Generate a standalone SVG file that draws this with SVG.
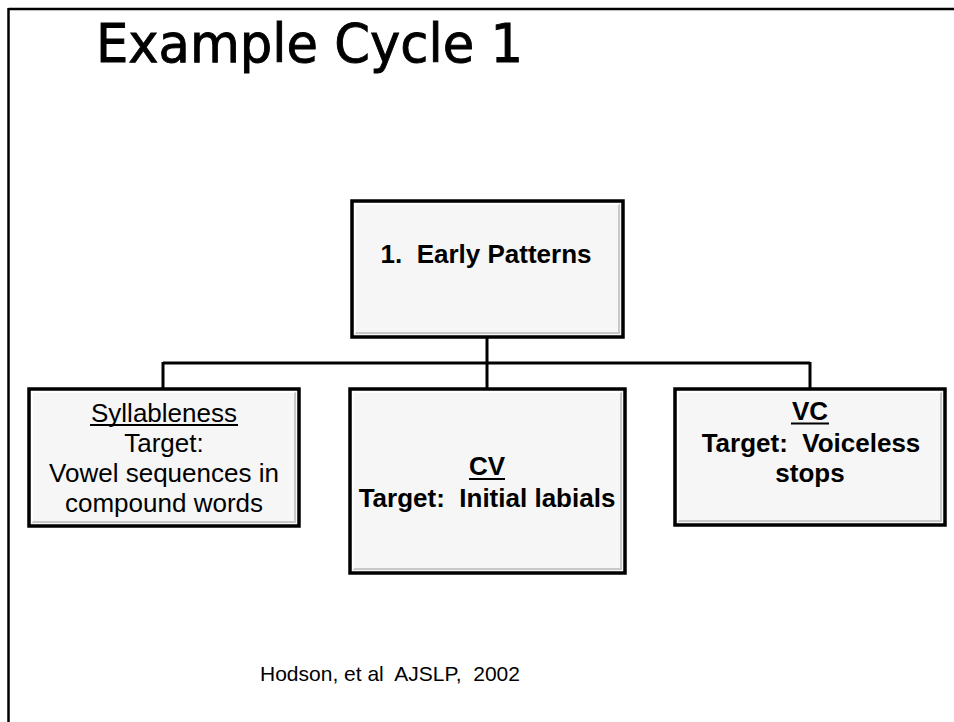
<svg xmlns="http://www.w3.org/2000/svg" width="954" height="722" viewBox="0 0 954 722">
<style>
.box{fill:#f6f6f6;stroke:#000;stroke-width:3.5}
.bev{fill:none;stroke:#c8c8c8;stroke-width:2}
.hl{fill:none;stroke:#ffffff;stroke-width:2}
.t{font-family:"Liberation Sans",Arial,sans-serif;font-size:26px;fill:#000;text-anchor:middle}
.b{font-weight:bold}
.conn{stroke:#000;stroke-width:3;fill:none}
</style>
<rect width="954" height="722" fill="#fff"/>
<g id="frame">
<line x1="8.5" y1="9" x2="954" y2="9" stroke="#000" stroke-width="2.5"/>
<line x1="8.5" y1="8" x2="8.5" y2="722" stroke="#000" stroke-width="2.5"/>
</g>
<text id="title" x="96" y="62" font-family="DejaVu Sans, sans-serif" font-size="53" textLength="427" lengthAdjust="spacingAndGlyphs" fill="#000" stroke="#000" stroke-width="0.9">Example Cycle 1</text>
<g id="connectors">
<line class="conn" x1="487" y1="338" x2="487" y2="390"/>
<line class="conn" x1="163" y1="363" x2="810" y2="363"/>
<line class="conn" x1="163" y1="362" x2="163" y2="390"/>
<line class="conn" x1="810" y1="362" x2="810" y2="390"/>
</g>
<g id="node-top">
<rect class="box" x="352" y="201" width="271" height="136"/>
<polyline class="bev" points="355,333 619,333 619,204"/>
<polyline class="hl" points="355,333 355,204 619,204"/>
<text class="t b" x="486" y="263" xml:space="preserve">1.  Early Patterns</text>
</g>
<g id="node-syllableness">
<rect class="box" x="29" y="389" width="270" height="137"/>
<polyline class="bev" points="32,522 295,522 295,392"/>
<polyline class="hl" points="32,522 32,392 295,392"/>
<text class="t" x="164" y="422">Syllableness</text>
<line x1="90" y1="425" x2="238" y2="425" stroke="#000" stroke-width="1.8"/>
<text class="t" x="164" y="452">Target:</text>
<text class="t" x="164" y="482">Vowel sequences in</text>
<text class="t" x="164" y="512">compound words</text>
</g>
<g id="node-cv">
<rect class="box" x="350" y="389" width="275" height="184"/>
<polyline class="bev" points="353,569 621,569 621,392"/>
<polyline class="hl" points="353,569 353,392 621,392"/>
<text class="t b" x="487" y="475">CV</text>
<line x1="469" y1="479" x2="505" y2="479" stroke="#000" stroke-width="2.2"/>
<text class="t b" x="487" y="507" xml:space="preserve">Target:  Initial labials</text>
</g>
<g id="node-vc">
<rect class="box" x="675" y="389" width="270" height="136"/>
<polyline class="bev" points="678,521 941,521 941,392"/>
<polyline class="hl" points="678,521 678,392 941,392"/>
<text class="t b" x="810" y="420">VC</text>
<line x1="791" y1="423.5" x2="829" y2="423.5" stroke="#000" stroke-width="2.2"/>
<text class="t b" x="811" y="452" xml:space="preserve">Target:  Voiceless</text>
<text class="t b" x="810" y="482">stops</text>
</g>
<text id="citation" x="260" y="681" font-family="Liberation Sans, Arial, sans-serif" font-size="21" fill="#000" xml:space="preserve">Hodson, et al  AJSLP,  2002</text>
</svg>
